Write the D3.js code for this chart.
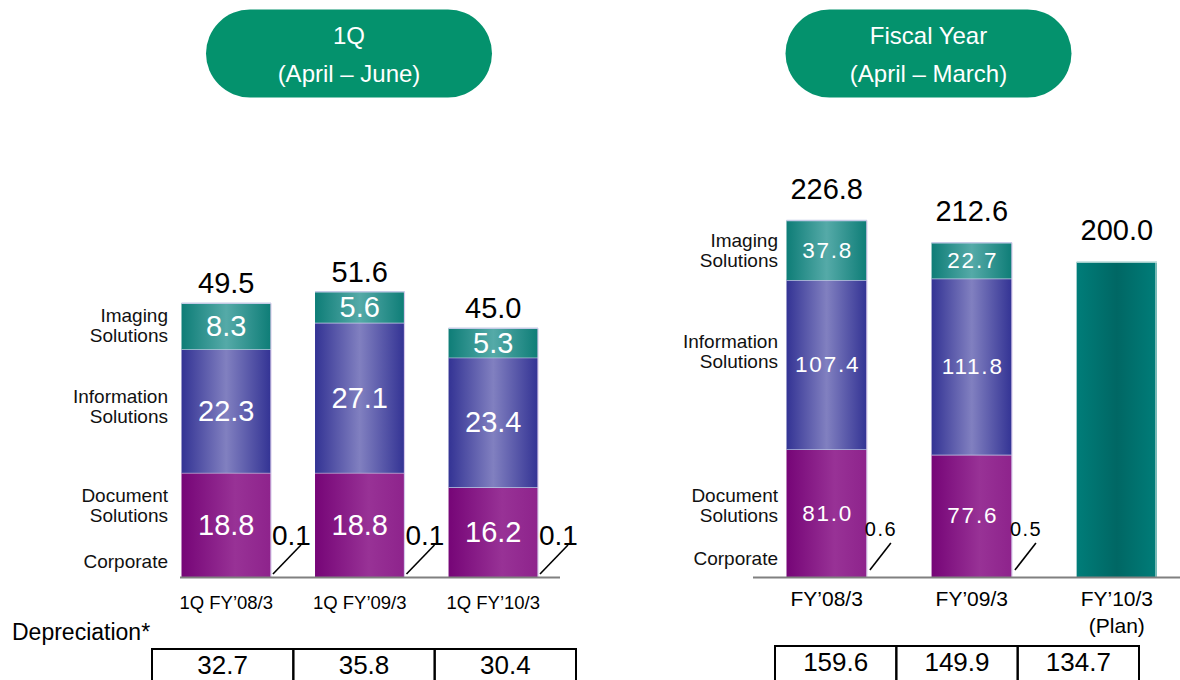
<!DOCTYPE html>
<html>
<head>
<meta charset="utf-8">
<script src="https://cdn.jsdelivr.net/npm/d3@7"></script>
<style>
  html, body { margin: 0; padding: 0; background: #fff; }
  svg { display: block; font-family: "Liberation Sans", Arial, sans-serif; }
</style>
</head>
<body>
<svg id="chart" width="1180" height="680"></svg>
<script>
(function () {
	'use strict';

	// --- Data: first quarter (April - June) ---
	var qCategories   = ['1Q FY\u201908/3', '1Q FY\u201909/3', '1Q FY\u201910/3'];
	var qDocument     = [18.8, 18.8, 16.2];
	var qInformation  = [22.3, 27.1, 23.4];
	var qImaging      = [8.3, 5.6, 5.3];
	var qCorporate    = [0.1, 0.1, 0.1];
	var qTotal        = [49.5, 51.6, 45.0];
	var qDepreciation = [32.7, 35.8, 30.4];

	// --- Data: fiscal year (April - March) ---
	var fyCategories   = ['FY\u201908/3', 'FY\u201909/3', 'FY\u201910/3'];
	var fySubLabels    = ['', '', '(Plan)'];
	var fyDocument     = [81.0, 77.6, null];
	var fyInformation  = [107.4, 111.8, null];
	var fyImaging      = [37.8, 22.7, null];
	var fyCorporate    = [0.6, 0.5, null];
	var fyTotal        = [226.8, 212.6, 200.0];
	var fyDepreciation = [159.6, 149.9, 134.7];

	var segmentNames = [['Imaging', 'Solutions'], ['Information', 'Solutions'], ['Document', 'Solutions'], ['Corporate']];

	var svg  = d3.select('#chart');
	var defs = svg.append('defs');

	function gradient(id, stops) {
		var g = defs.append('linearGradient').attr('id', id)
			.attr('x1', '0%').attr('x2', '100%').attr('y1', '0%').attr('y2', '0%');
		stops.forEach(function (s) {
			g.append('stop').attr('offset', s[0]).attr('stop-color', s[1]);
		});
	}
	gradient('gImg',  [['0%', '#0e7d77'], ['50%', '#55aaa8'], ['100%', '#0e7d77']]);
	gradient('gInfo', [['0%', '#333394'], ['50%', '#8180c0'], ['100%', '#333394']]);
	gradient('gDoc',  [['0%', '#760577'], ['60%', '#983296'], ['100%', '#8e238c']]);
	gradient('gPlan', [['0%', '#007d79'], ['50%', '#006764'], ['100%', '#007d79']]);

	var GREEN = '#04926d';

	// --- Header pills ---
	function pill(cx, line1, line2) {
		var w = 286, h = 88;
		svg.append('rect')
			.attr('x', cx - w / 2).attr('y', 9.5)
			.attr('width', w).attr('height', h)
			.attr('rx', h / 2).attr('ry', h / 2)
			.attr('fill', GREEN);
		svg.append('text').attr('x', cx).attr('y', 44)
			.attr('text-anchor', 'middle').attr('fill', '#fff')
			.style('font-size', '24px').text(line1);
		svg.append('text').attr('x', cx).attr('y', 82)
			.attr('text-anchor', 'middle').attr('fill', '#fff')
			.style('font-size', '24px').text(line2);
	}
	pill(349, '1Q', '(April \u2013 June)');
	pill(928.5, 'Fiscal Year', '(April \u2013 March)');

	var BASE = 577;

	// --- Panel renderer ---
	function panel(opt) {
		var x = d3.scaleBand().domain(opt.categories)
			.range(opt.xRange).paddingInner(opt.padding).paddingOuter(0);
		var y = d3.scaleLinear().domain([0, opt.yMax]).range([BASE, BASE - opt.yPx]);
		var g = svg.append('g');

		// segment labels on the left
		var labelY = opt.labelY;
		segmentNames.forEach(function (lines, i) {
			var t = g.append('text').attr('text-anchor', 'end')
				.attr('fill', '#111').style('font-size', '19px');
			lines.forEach(function (ln, j) {
				t.append('tspan').attr('x', opt.labelX)
					.attr('y', labelY[i] + j * 19.5).text(ln);
			});
		});

		opt.categories.forEach(function (cat, i) {
			var bx = x(cat), bw = x.bandwidth();
			var cx = bx + bw / 2;

			if (opt.doc[i] == null) {
				// single plan bar
				g.append('rect').attr('x', bx).attr('y', y(opt.total[i]))
					.attr('width', bw).attr('height', BASE - y(opt.total[i]))
					.attr('fill', 'url(#gPlan)');
				g.append('line').attr('x1', bx + bw - 1).attr('x2', bx + bw - 1)
					.attr('y1', y(opt.total[i])).attr('y2', BASE)
					.attr('stroke', '#9fd0cc').attr('stroke-width', 1.5);
				g.append('line').attr('x1', bx).attr('x2', bx + bw)
					.attr('y1', y(opt.total[i]) + 0.5).attr('y2', y(opt.total[i]) + 0.5)
					.attr('stroke', '#c9e3e1').attr('stroke-width', 1);
			} else {
				var segs = [
					{ v: opt.doc[i],  fill: 'url(#gDoc)' },
					{ v: opt.info[i], fill: 'url(#gInfo)' },
					{ v: opt.img[i],  fill: 'url(#gImg)' }
				];
				var acc = 0;
				segs.forEach(function (s) {
					var y0 = y(acc), y1 = y(acc + s.v);
					g.append('rect').attr('x', bx).attr('y', y1)
						.attr('width', bw).attr('height', y0 - y1)
						.attr('fill', s.fill);
					g.append('line').attr('x1', bx).attr('x2', bx + bw)
						.attr('y1', y1).attr('y2', y1)
						.attr('stroke', '#c4cbe6').attr('stroke-width', 1.5);
					g.append('text').attr('x', cx + opt.innerShift).attr('y', (y0 + y1) / 2)
						.attr('text-anchor', 'middle').attr('dominant-baseline', 'central')
						.attr('fill', '#fff')
						.style('font-size', opt.innerSize + 'px')
						.style('letter-spacing', opt.innerSpacing + 'px')
						.text(s.v.toFixed(1));
					acc += s.v;
				});
				g.append('line').attr('x1', bx + bw).attr('x2', bx + bw)
					.attr('y1', y(acc)).attr('y2', BASE)
					.attr('stroke', '#d6c9ea').attr('stroke-width', 1.2);

				// corporate leader line + value
				var rx = bx + bw;
				g.append('line')
					.attr('x1', rx + opt.lead[0]).attr('y1', BASE - opt.lead[1])
					.attr('x2', rx + opt.lead[2]).attr('y2', BASE - opt.lead[3])
					.attr('stroke', '#000').attr('stroke-width', 1.6);
				g.append('text').attr('x', rx + opt.corpDx).attr('y', BASE - opt.corpDy)
					.attr('fill', '#000')
					.style('font-size', opt.corpSize + 'px')
					.style('letter-spacing', opt.corpSpacing + 'px')
					.text(opt.corp[i].toFixed(1));
			}

			// total above the bar
			var top = opt.doc[i] == null ? opt.total[i] : opt.doc[i] + opt.info[i] + opt.img[i];
			g.append('text').attr('x', cx).attr('y', y(top) - opt.totalGap)
				.attr('text-anchor', 'middle').attr('fill', '#000')
				.style('font-size', '29px').text(opt.total[i].toFixed(1));

			// category labels
			g.append('text').attr('x', cx).attr('y', opt.catY)
				.attr('text-anchor', 'middle').attr('fill', '#000')
				.style('font-size', opt.catSize + 'px').text(cat);
			if (opt.sub && opt.sub[i]) {
				g.append('text').attr('x', cx).attr('y', opt.catY + 27)
					.attr('text-anchor', 'middle').attr('fill', '#000')
					.style('font-size', opt.catSize + 'px').text(opt.sub[i]);
			}
		});

		// baseline
		g.append('line').attr('x1', opt.axis[0]).attr('x2', opt.axis[1])
			.attr('y1', BASE + 0.5).attr('y2', BASE + 0.5)
			.attr('stroke', '#808080').attr('stroke-width', 2);

		// depreciation table
		var tx = d3.scaleBand().domain(opt.categories).range(opt.tableX);
		var t = svg.append('g');
		opt.categories.forEach(function (cat, i) {
			t.append('rect').attr('x', tx(cat)).attr('y', opt.tableY)
				.attr('width', tx.bandwidth()).attr('height', 40)
				.attr('fill', 'none').attr('stroke', '#000').attr('stroke-width', 2);
			t.append('text').attr('x', tx(cat) + tx.bandwidth() / 2).attr('y', opt.tableY + 25)
				.attr('text-anchor', 'middle').attr('fill', '#000')
				.style('font-size', '26px').text(opt.dep[i].toFixed(1));
		});
	}

	panel({
		categories: qCategories, doc: qDocument, info: qInformation, img: qImaging,
		corp: qCorporate, total: qTotal, dep: qDepreciation,
		xRange: [181.5, 538], padding: 0.33, yMax: 60, yPx: 332.4,
		labelX: 168, labelY: [322, 403, 502, 568],
		innerSize: 29, innerSpacing: 0, innerShift: 0,
		corpSize: 28, corpSpacing: 0, corpDx: 1, corpDy: 32, lead: [2, 3, 30, 32],
		totalGap: 10, catY: 609, catSize: 18.5,
		axis: [180, 560], tableX: [152, 576], tableY: 649
	});

	panel({
		categories: fyCategories, sub: fySubLabels, doc: fyDocument, info: fyInformation, img: fyImaging,
		corp: fyCorporate, total: fyTotal, dep: fyDepreciation,
		xRange: [786.5, 1157], padding: 0.446, yMax: 250, yPx: 394,
		labelX: 778, labelY: [247, 348, 502, 565],
		innerSize: 22.5, innerSpacing: 1.8, innerShift: 1,
		corpSize: 20, corpSpacing: 1.5, corpDx: -2, corpDy: 41, lead: [3, 7, 24, 34],
		totalGap: 22, catY: 606, catSize: 21,
		axis: [753, 1180], tableX: [775, 1139], tableY: 646
	});

	svg.append('text').attr('x', 12).attr('y', 640)
		.attr('fill', '#000').style('font-size', '23px').text('Depreciation*');
})();
</script>
</body>
</html>
